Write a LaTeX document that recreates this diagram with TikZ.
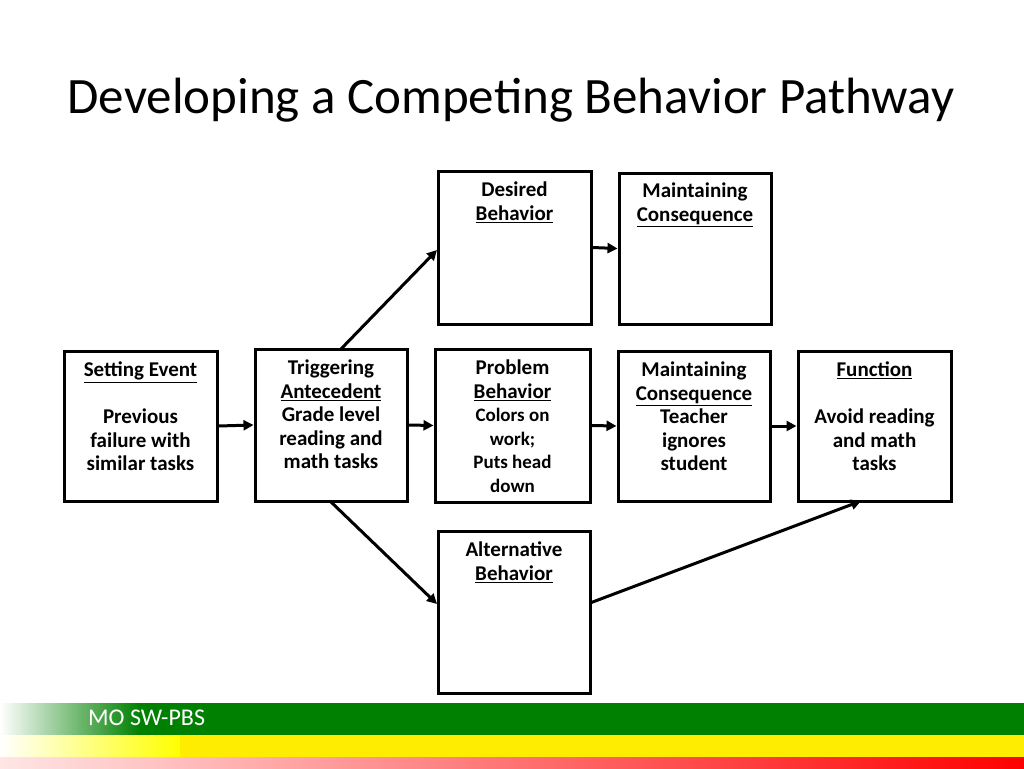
\documentclass[tikz,border=0pt]{standalone}
\usepackage{fontspec}
\setmainfont{Carlito}
\usetikzlibrary{arrows.meta}
\begin{document}
\begin{tikzpicture}[x=1pt,y=-1pt,
  box/.style={draw,line width=3pt,minimum width=#1,inner sep=0pt},
  txt/.style={anchor=north,align=center,font=\bfseries\fontsize{21}{23.5}\selectfont,inner sep=0pt},
  arr/.style={line width=3pt,-{Triangle[length=10pt,width=10pt]}}]
\useasboundingbox (0,0) rectangle (1024,768);
% bottom bars
\shade[left color=white,right color=green!50!black] (0,703) rectangle (140,735);
\fill[green!50!black] (140,703) rectangle (1024,735);
\shade[left color=white,right color=yellow] (0,735) rectangle (180,757);
\fill[yellow!95!orange] (180,735) rectangle (1024,757);
\shade[left color=red!10,right color=red] (0,757) rectangle (1024,768);
\node[anchor=west,text=white,font=\fontsize{24}{26}\selectfont,inner sep=0pt] (foot) at (88,718) {MO SW-PBS};
% title
\node[font=\fontsize{51}{56}\selectfont] (title) at (511,100) {Developing a Competing Behavior Pathway};
% boxes
\node[box=153pt,minimum height=150pt] (se) at (140.5,426) {};
\node[box=152pt,minimum height=152pt] (ta) at (331,425) {};
\node[box=155pt,minimum height=153pt] (pb) at (512.5,425.5) {};
\node[box=152pt,minimum height=150pt] (mc) at (694,426) {};
\node[box=153pt,minimum height=150pt] (fn) at (874.5,426) {};
\node[box=153pt,minimum height=153pt] (db) at (514.5,247.5) {};
\node[box=152pt,minimum height=151pt] (mc1) at (695,248.5) {};
\node[box=152pt,minimum height=162pt] (ab) at (514,612) {};
% texts
\node[txt] (set) at (140.5,362) {\underline{Setting Event}\\[23.5pt]Previous\\failure with\\similar tasks};
\node[txt] (tat) at (331,360) {Triggering\\\underline{Antecedent}\\Grade level\\reading and\\math tasks};
\node[txt] (pbt) at (512.5,360) {Problem\\\underline{Behavior}\\{\fontsize{19}{22.5}\selectfont Colors on}\\{\fontsize{19}{22.5}\selectfont work;}\\{\fontsize{19}{22.5}\selectfont Puts head}\\{\fontsize{19}{22.5}\selectfont down}};
\node[txt] (mct) at (694,362) {Maintaining\\\underline{Consequence}\\Teacher\\ignores\\student};
\node[txt] (fnt) at (874.5,362) {\underline{Function}\\[23.5pt]Avoid reading\\and math\\tasks};
\node[txt] (dbt) at (514.5,182) {Desired\\\underline{Behavior}};
\node[txt] (mc1t) at (695,183) {Maintaining\\\underline{Consequence}};
\node[txt] (abt) at (514,542) {Alternative\\\underline{Behavior}};
% arrows
\draw[arr] (se.east) -- (ta.west);
\draw[arr] (ta.east) -- (pb.west);
\draw[arr] (pb.east) -- (mc.west);
\draw[arr] (mc.east) -- (fn.west);
\draw[arr] (db.east) -- (mc1.west);
\coordinate (ta1) at (341,349);
\coordinate (db1) at (437,250);
\draw[arr] (ta1) -- (db1);
\coordinate (ta2) at (330,501);
\coordinate (ab1) at (437,604);
\draw[arr] (ta2) -- (ab1);
\coordinate (ab2) at (590,603);
\coordinate (fn1) at (861,501);
\draw[arr] (ab2) -- (fn1);
\end{tikzpicture}
\end{document}
